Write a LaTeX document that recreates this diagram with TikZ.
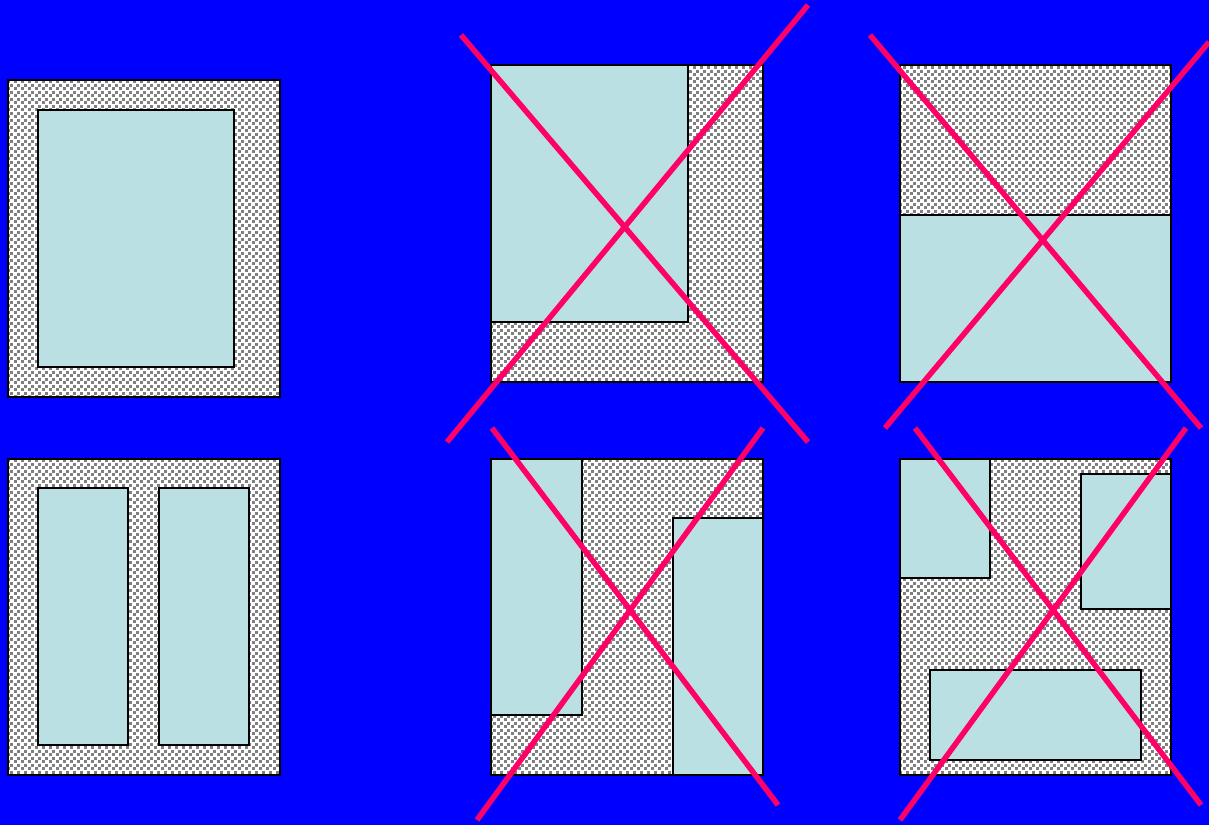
\documentclass[tikz,border=0pt]{standalone}
\usepackage{tikz}
\usetikzlibrary{patterns}
\definecolor{bgblue}{RGB}{0,0,255}
\definecolor{coilblue}{RGB}{187,224,227}
\definecolor{crosspink}{RGB}{255,0,102}
\pgfdeclarepatternformonly{dither}{\pgfqpoint{0pt}{0pt}}{\pgfqpoint{7pt}{7pt}}{\pgfqpoint{7pt}{7pt}}{
  \pgfpathrectangle{\pgfqpoint{0pt}{0pt}}{\pgfqpoint{3.2pt}{3.2pt}}
  \pgfpathrectangle{\pgfqpoint{3.5pt}{3.5pt}}{\pgfqpoint{3.2pt}{3.2pt}}
  \pgfusepath{fill}
}
\tikzset{
  core/.style={draw=black,line width=1.8pt,preaction={fill=white},pattern=dither,pattern color=gray},
  coil/.style={draw=black,line width=1.8pt,fill=coilblue},
  cross/.style={crosspink,line width=5.5pt}
}
\begin{document}
\begin{tikzpicture}[x=1pt,y=-1pt]
  \fill[bgblue] (0,0) rectangle (1209,825);
  \useasboundingbox (0,0) rectangle (1209,825);
  % good ones
  \draw[core] (8,80) rectangle (280,397);
  \draw[coil] (38,110) rectangle (234,367);
  \draw[core] (8,459) rectangle (280,775);
  \draw[coil] (38,488) rectangle (128,745);
  \draw[coil] (159,488) rectangle (249,745);
  % bad ones
  \draw[core] (491,65) rectangle (763,382);
  \draw[coil] (491,65) rectangle (688,322);
  \draw[cross] (461,35) -- (808,442);
  \draw[cross] (447,442) -- (808,5);
  \draw[core] (900,65) rectangle (1171,382);
  \draw[coil] (900,215) rectangle (1171,382);
  \draw[cross] (870,35) -- (1201,428);
  \draw[cross] (885,428) -- (1209,42);
  \draw[core] (491,459) rectangle (763,775);
  \draw[coil] (491,459) rectangle (582,715);
  \draw[coil] (673,518) rectangle (763,775);
  \draw[cross] (492,428) -- (778,805);
  \draw[cross] (477,820) -- (763,428);
  \draw[core] (900,459) rectangle (1171,775);
  \draw[coil] (900,459) rectangle (990,578);
  \draw[coil] (1081,474) rectangle (1171,609);
  \draw[coil] (930,670) rectangle (1141,760);
  \draw[cross] (915,428) -- (1201,805);
  \draw[cross] (900,820) -- (1186,428);
\end{tikzpicture}
\end{document}
